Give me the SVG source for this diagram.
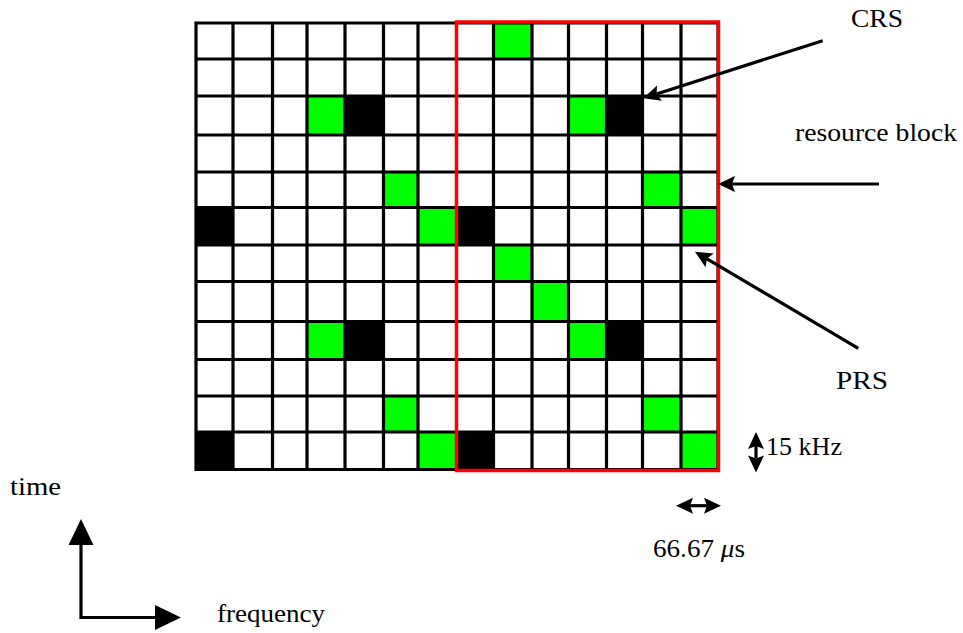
<svg xmlns="http://www.w3.org/2000/svg" width="963" height="633" viewBox="0 0 963 633">
<style>
.lbl{font-family:"Liberation Serif","DejaVu Serif",serif;font-size:26px;fill:#000}
.g{fill:#00ff00}
.k{fill:#000}
.gl{stroke:#000;stroke-width:3.2;fill:none}
.arr{stroke:#000;stroke-width:3.2;fill:none}
</style>
<defs>
<marker id="ah" markerUnits="userSpaceOnUse" markerWidth="22" markerHeight="22" viewBox="-1 -10 22 20" refX="3" refY="0" orient="auto-start-reverse">
<path d="M0,-8 L17,0 L0,8 L3,0 Z" fill="#000"/>
</marker>
<marker id="big" markerUnits="userSpaceOnUse" markerWidth="28" markerHeight="28" viewBox="-1 -13 27 26" refX="0" refY="0" orient="auto-start-reverse">
<path d="M0,-12 L25,0 L0,12 Z" fill="#000"/>
</marker>
</defs>
<rect width="963" height="633" fill="#fff"/>
<g id="grid">
<g id="cells">
<rect class="g" x="493.5" y="23" width="38.5" height="36"/>
<rect class="g" x="307" y="96" width="38" height="39"/>
<rect class="k" x="345" y="96" width="38.5" height="39"/>
<rect class="g" x="568.5" y="96" width="38" height="39"/>
<rect class="k" x="606.5" y="96" width="36" height="39"/>
<rect class="g" x="383.5" y="172" width="34.5" height="35.5"/>
<rect class="g" x="642.5" y="172" width="38.5" height="35.5"/>
<rect class="k" x="196" y="207.5" width="37" height="37.5"/>
<rect class="g" x="418" y="207.5" width="38.5" height="37.5"/>
<rect class="k" x="456.5" y="207.5" width="37" height="37.5"/>
<rect class="g" x="681" y="207.5" width="37" height="37.5"/>
<rect class="g" x="493.5" y="245" width="38.5" height="36.5"/>
<rect class="g" x="532" y="281.5" width="36.5" height="40"/>
<rect class="g" x="307" y="321.5" width="38" height="38"/>
<rect class="k" x="345" y="321.5" width="38.5" height="38"/>
<rect class="g" x="568.5" y="321.5" width="38" height="38"/>
<rect class="k" x="606.5" y="321.5" width="36" height="38"/>
<rect class="g" x="383.5" y="396" width="34.5" height="36"/>
<rect class="g" x="642.5" y="396" width="38.5" height="36"/>
<rect class="k" x="196" y="432" width="37" height="37.5"/>
<rect class="g" x="418" y="432" width="38.5" height="37.5"/>
<rect class="k" x="456.5" y="432" width="37" height="37.5"/>
<rect class="g" x="681" y="432" width="37" height="37.5"/>
</g>
<path class="gl" d="M196,21.5V471 M233,21.5V471 M272.5,21.5V471 M307,21.5V471 M345,21.5V471 M383.5,21.5V471 M418,21.5V471 M493.5,21.5V471 M532,21.5V471 M568.5,21.5V471 M606.5,21.5V471 M642.5,21.5V471 M681,21.5V471 M718,21.5V471
M194.5,23H719 M194.5,59H719 M194.5,96H719 M194.5,135H719 M194.5,172H719 M194.5,207.5H719 M194.5,245H719 M194.5,281.5H719 M194.5,321.5H719 M194.5,359.5H719 M194.5,396H719 M194.5,432H719 M194.5,469.5H719"/>
</g>
<g id="resource-block">
<rect x="456.5" y="22" width="262" height="448.5" fill="none" stroke="#ff0000" stroke-width="3.5"/>
</g>
<g id="connectors">
<line class="arr" x1="822.7" y1="40.7" x2="656.6" y2="94" marker-end="url(#ah)"/>
<line class="arr" x1="879" y1="184" x2="732" y2="184" marker-end="url(#ah)"/>
<line class="arr" x1="858.3" y1="348.3" x2="707" y2="258.8" marker-end="url(#ah)"/>
<line class="arr" x1="756" y1="446" x2="756" y2="458.5" marker-start="url(#ah)" marker-end="url(#ah)"/>
<line class="arr" x1="690" y1="505.7" x2="707" y2="505.7" marker-start="url(#ah)" marker-end="url(#ah)"/>
<path class="arr" d="M81,545 V617.5 H155" marker-start="url(#big)" marker-end="url(#big)"/>
</g>
<g id="labels">
<text class="lbl" x="851" y="27" textLength="52" lengthAdjust="spacingAndGlyphs">CRS</text>
<text class="lbl" x="795" y="141" textLength="162" lengthAdjust="spacingAndGlyphs">resource block</text>
<text class="lbl" x="836" y="389" textLength="52" lengthAdjust="spacingAndGlyphs">PRS</text>
<text class="lbl" x="766" y="455" textLength="76" lengthAdjust="spacingAndGlyphs">15 kHz</text>
<text class="lbl" x="653" y="557" textLength="92" lengthAdjust="spacingAndGlyphs">66.67 <tspan font-style="italic">μ</tspan>s</text>
<text class="lbl" x="10" y="495" textLength="51" lengthAdjust="spacingAndGlyphs">time</text>
<text class="lbl" x="217" y="622" textLength="108" lengthAdjust="spacingAndGlyphs">frequency</text>
</g>
</svg>
